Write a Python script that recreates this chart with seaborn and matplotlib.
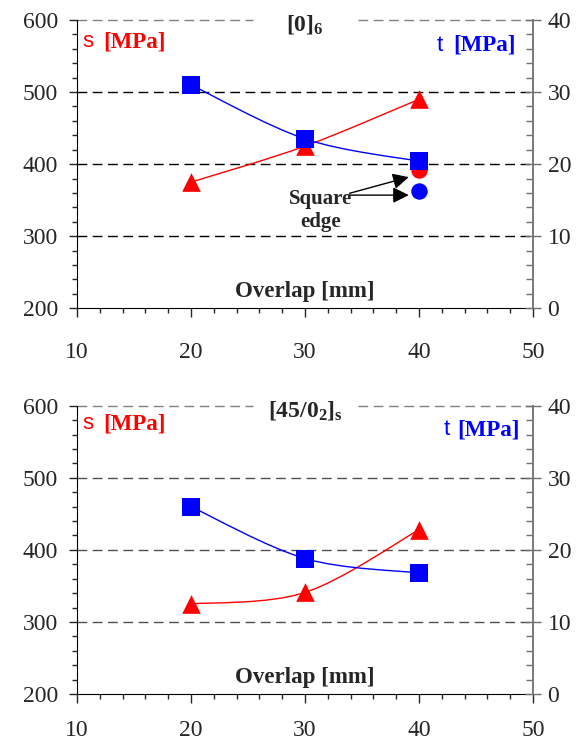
import numpy as np
import matplotlib
matplotlib.use("Agg")
import matplotlib.pyplot as plt
from matplotlib.path import Path
from matplotlib.patches import PathPatch
from matplotlib.ticker import MultipleLocator
import seaborn as sns

# data
overlap = [20, 30, 40]
sigma_0 = [375, 425, 490]        # [0]6, left axis
tau_0 = [31.0, 23.5, 20.4]       # [0]6, right axis
square_x = [40]
sigma_0_square = [392]
tau_0_square = [16.25]
sigma_45 = [325, 341, 428]       # [45/02]s
tau_45 = [26.0, 18.8, 16.8]

sns.set_style("white")
plt.rcParams['font.family'] = ['Liberation Serif', 'DejaVu Serif']
plt.rcParams['mathtext.fontset'] = 'custom'
plt.rcParams['mathtext.rm'] = 'Liberation Serif'
plt.rcParams['mathtext.bf'] = 'Liberation Serif:bold'

RED = '#FF0000'
BLUE = '#0000FF'


def smooth_path(x, y):
    # smoothed line through the points (bezier, like the spreadsheet's smoothed line)
    pts = np.column_stack([np.asarray(x, float), np.asarray(y, float)])
    n = len(pts)
    verts = [pts[0]]
    codes = [Path.MOVETO]
    for i in range(n - 1):
        p0 = pts[max(i - 1, 0)]
        p1 = pts[i]
        p2 = pts[i + 1]
        p3 = pts[min(i + 2, n - 1)]
        verts += [p1 + (p2 - p0) / 6, p2 - (p3 - p1) / 6, p2]
        codes += [Path.CURVE4] * 3
    return Path(verts, codes)


def panel(ax, sig, tau, title, gridcolor, xpad):
    ax.set_xlim(10, 50)
    ax.set_ylim(200, 600)
    ax2 = ax.twinx()
    ax2.set_ylim(0, 40)

    for v in [300, 400, 500]:
        ax.axhline(v, color=gridcolor, ls=(0, (7, 4)), lw=1, zorder=0)
    ax.axhline(600, xmin=0, xmax=0.386, color='gray', ls=(0, (7, 4)), lw=1, clip_on=False)
    ax.axhline(600, xmin=0.616, xmax=1, color='gray', ls=(0, (7, 4)), lw=1, clip_on=False)

    ax.add_patch(PathPatch(smooth_path(overlap, sig), fc='none', ec=RED, lw=1, zorder=2))
    sns.scatterplot(x=overlap, y=sig, marker='^', s=180, color=RED, linewidth=0, ax=ax, zorder=3)
    ax2.add_patch(PathPatch(smooth_path(overlap, tau), fc='none', ec=BLUE, lw=1, zorder=2))
    sns.scatterplot(x=overlap, y=tau, marker='s', s=150, color=BLUE, linewidth=0, ax=ax2, zorder=3)

    # spines
    for s in ['top', 'right']:
        ax.spines[s].set_visible(False)
    for s in ['top', 'left', 'bottom']:
        ax2.spines[s].set_visible(False)
    ax.spines['left'].set_color('black')
    ax.spines['bottom'].set_color('black')
    ax2.spines['right'].set_color('#707070')
    ax2.spines['right'].set_linewidth(1.3)

    # ticks
    ax.xaxis.set_major_locator(MultipleLocator(10))
    ax.xaxis.set_minor_locator(MultipleLocator(2))
    ax.yaxis.set_major_locator(MultipleLocator(100))
    ax.yaxis.set_minor_locator(MultipleLocator(20))
    ax2.yaxis.set_major_locator(MultipleLocator(10))
    ax2.yaxis.set_minor_locator(MultipleLocator(2))
    ax.tick_params(axis='x', which='major', direction='out', length=6.5, width=1,
                   pad=xpad, labelsize=17, bottom=True, labelfontfamily='Liberation Serif')
    ax.tick_params(axis='x', which='minor', direction='out', length=3.5, width=1, bottom=True)
    ax.tick_params(axis='y', which='major', direction='out', length=5.5, width=1,
                   pad=8, labelsize=17, left=True, labelfontfamily='Liberation Serif')
    ax.tick_params(axis='y', which='minor', direction='out', length=3.5, width=1, left=True)
    ax2.tick_params(axis='y', which='major', direction='inout', length=11, width=1,
                    pad=5, labelsize=17, right=True, color='#707070',
                    labelfontfamily='Liberation Serif')
    ax2.tick_params(axis='y', which='minor', direction='in', length=5, width=1,
                    right=True, color='#707070')
    ax.set_xlabel('')
    ax.set_ylabel('')
    ax2.set_ylabel('')

    # labels inside the plot
    ax2.text(0.5, 0.983, title, transform=ax2.transAxes, ha='center', va='center',
             fontsize=17, zorder=10)
    ax2.text(0.5, 0.059, 'Overlap [mm]', transform=ax2.transAxes, ha='center',
             va='center', fontsize=16.5, fontweight='bold')
    return ax2


fig = plt.figure(figsize=(5.78, 7.41), dpi=100)
ax_top = fig.add_axes([0.1332, 0.584, 0.789, 0.389])
ax_bot = fig.add_axes([0.1332, 0.0634, 0.789, 0.389])

top2 = panel(ax_top, sigma_0, tau_0, r'$\mathbf{[0]_6}$', 'black', 18)
sns.scatterplot(x=square_x, y=sigma_0_square, marker='o', s=140, color=RED,
                linewidth=0, ax=ax_top, zorder=3)
sns.scatterplot(x=square_x, y=tau_0_square, marker='o', s=140, color=BLUE,
                linewidth=0, ax=top2, zorder=3)
ax_top.text(31.4, 336, 'Square\nedge', ha='center', va='center', fontsize=15,
            fontweight='bold', linespacing=1.2)
ax_top.annotate('', xy=(39.1, 382), xytext=(33.9, 359.5),
                arrowprops=dict(arrowstyle='-|>,head_length=0.6,head_width=0.3',
                                color='black', lw=1, mutation_scale=16, shrinkA=0, shrinkB=0))
ax_top.annotate('', xy=(39.1, 357), xytext=(33.9, 357),
                arrowprops=dict(arrowstyle='-|>,head_length=0.6,head_width=0.3',
                                color='black', lw=1, mutation_scale=16, shrinkA=0, shrinkB=0))

bot2 = panel(ax_bot, sigma_45, tau_45, r'$\mathbf{[45/0_2]_s}$', '#505050', 12)

# axis quantity labels (sigma/tau glyphs render as s/t in the original)
for ax, ys in [(ax_top, 0.924), (ax_bot, 0.9375)]:
    ax.text(0.011, ys, 's', transform=ax.transAxes, color=RED, fontsize=16,
            family=['Liberation Sans'], va='center')
    ax.text(0.057, ys, '[MPa]', transform=ax.transAxes, color=RED, fontsize=16.5,
            fontweight='bold', va='center')
for ax, xt, xm, yt in [(ax_top, 0.789, 0.825, 0.913), (ax_bot, 0.803, 0.833, 0.917)]:
    ax.text(xt, yt, 't', transform=ax.transAxes, color=BLUE, fontsize=16,
            family=['Liberation Sans'], va='center')
    ax.text(xm, yt, '[MPa]', transform=ax.transAxes, color=BLUE, fontsize=16.5,
            fontweight='bold', va='center')

fig.savefig('out.png', dpi=100)
